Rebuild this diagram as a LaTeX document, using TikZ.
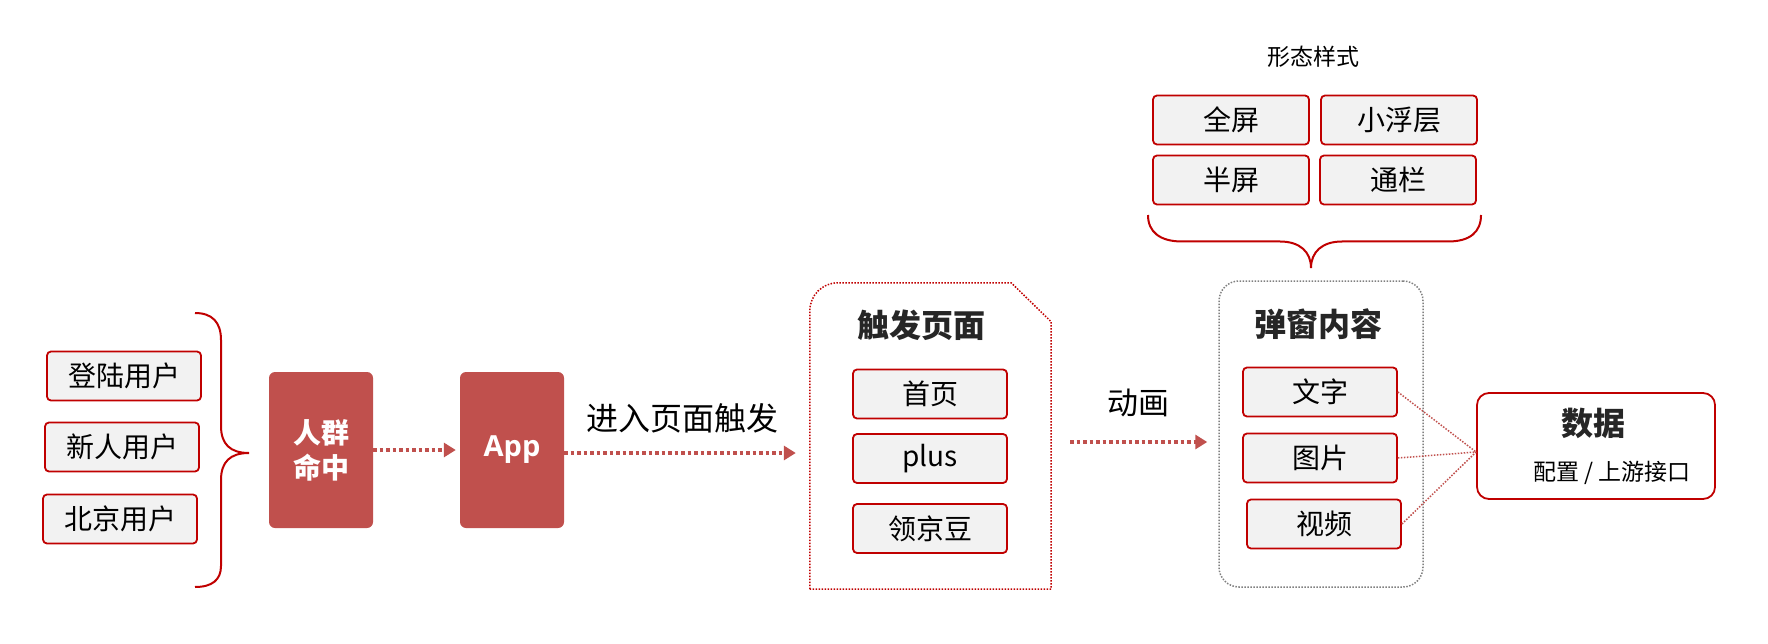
\documentclass[tikz,border=0pt]{standalone}
\usepackage{fontspec}
\setmainfont{Noto Sans CJK SC}
\newfontfamily\latinsans{Open Sans}
\usepackage{tikz}
\usetikzlibrary{arrows.meta}
\definecolor{bordred}{HTML}{C00000}
\definecolor{fillred}{HTML}{C0504D}
\definecolor{itemgray}{HTML}{F2F2F2}
\newcommand{\fs}[1]{\fontsize{#1}{1.25\dimexpr#1pt\relax}\selectfont}

\begin{document}
\begin{tikzpicture}[x=1pt, y=-1pt,
    item/.style={draw=bordred, fill=itemgray, line width=1.8pt, rounded corners=4pt,
      minimum width=154pt, minimum height=49pt, inner sep=0pt, font=\fs{28}},
    redbox/.style={fill=fillred, rounded corners=6pt, minimum width=104pt,
      minimum height=156pt, text=white, font=\fs{28}\bfseries, align=center},
    title/.style={font=\fs{32}\bfseries, text=black!85},
    flow/.style={draw=fillred, line width=3.5pt, dash pattern=on 3.5pt off 3pt,
      -{Triangle[length=12pt,width=14pt]}},
    link/.style={draw=fillred, line width=1.5pt, dash pattern=on 1.5pt off 1.5pt},
    brace/.style={draw=bordred, line width=2pt}]
\useasboundingbox (0,0) rectangle (1768,644);
% users and left brace
\foreach \n/\t/\x/\y in {u1/登陆用户/124/376, u2/新人用户/122/447, u3/北京用户/120/519}
  \node[item] (\n) at (\x,\y) {\t};
\draw[brace] (195,313) .. controls (212,313) and (221,322) .. (221,340) -- (221,426)
  .. controls (221,444) and (230,453) .. (249,453) .. controls (230,453) and (221,462) .. (221,480)
  -- (221,566) .. controls (221,580) and (212,587) .. (195,587);
\node[redbox] (hit) at (321,450) {人群\\命中};
\node[redbox, font=\latinsans\fs{29}\bfseries] (app) at (512,450) {App};
\draw[flow, shorten >=4pt] (hit) -- (app);
% trigger pages
\node[minimum width=241pt, minimum height=306pt] (trig) at (930.5,436) {};
\draw[bordred, line width=1.5pt, dash pattern=on 1.5pt off 1.5pt]
  (trig.south west) -- ([yshift=-28pt]trig.north west) arc (180:90:28pt)
  -- ([xshift=-40pt]trig.north east) -- ([yshift=-39pt]trig.north east)
  -- (trig.south east) -- cycle;
\draw[flow, shorten >=14pt] ([yshift=-3pt]app.east) -- ([yshift=-3pt]app.east -| trig.west);
\node[font=\fs{32}] (enter) at (682,418) {进入页面触发};
\node[title] (trigt) at (921,325) {触发页面};
\foreach \n/\t/\y in {p1/首页/394, p2/plus/458.5, p3/领京豆/528.5}
  \node[item] (\n) at (930,\y) {\t};
% popup content
\node[draw=gray, line width=1.5pt, dash pattern=on 1.5pt off 1.5pt, rounded corners=20pt,
  minimum width=204pt, minimum height=306pt] (pop) at (1321,434) {};
\draw[flow, shorten <=19pt, shorten >=11pt] ([yshift=-6pt]trig.east) -- ([yshift=-6pt]trig.east -| pop.west);
\node[font=\fs{31}] (anim) at (1138,403) {动画};
\node[title] (popt) at (1318,324) {弹窗内容};
\foreach \n/\t/\x/\y in {c1/文字/1320/392, c2/图片/1320/458, c3/视频/1324/524}
  \node[item] (\n) at (\x,\y) {\t};
% forms and top brace
\node[font=\fs{23}] (form) at (1313,57) {形态样式};
\foreach \n/\t/\x/\y in {f1/全屏/1231/120, f2/小浮层/1399/120, f3/半屏/1231/180, f4/通栏/1398/180}
  \node[item, minimum width=156pt] (\n) at (\x,\y) {\t};
\draw[brace] (1148,215) .. controls (1148,232) and (1160,241.5) .. (1182,241.5) -- (1280,241.5)
  .. controls (1300,241.5) and (1311,252) .. (1311,268) .. controls (1311,252) and (1322,241.5) .. (1342,241.5)
  -- (1448,241.5) .. controls (1470,241.5) and (1481,232) .. (1481,215);
% data
\node[draw=bordred, line width=1.8pt, fill=white, rounded corners=12pt,
  minimum width=238pt, minimum height=106pt] (data) at (1596,446) {};
\node[title] (datat) at (1593,423) {数据};
\node[font=\fs{23}] (datas) at (1612,473) {配置 / 上游接口};
\foreach \n in {c1,c2,c3}
  \draw[link] (\n.east) -- ([yshift=-6pt]data.west);
\end{tikzpicture}
\end{document}
